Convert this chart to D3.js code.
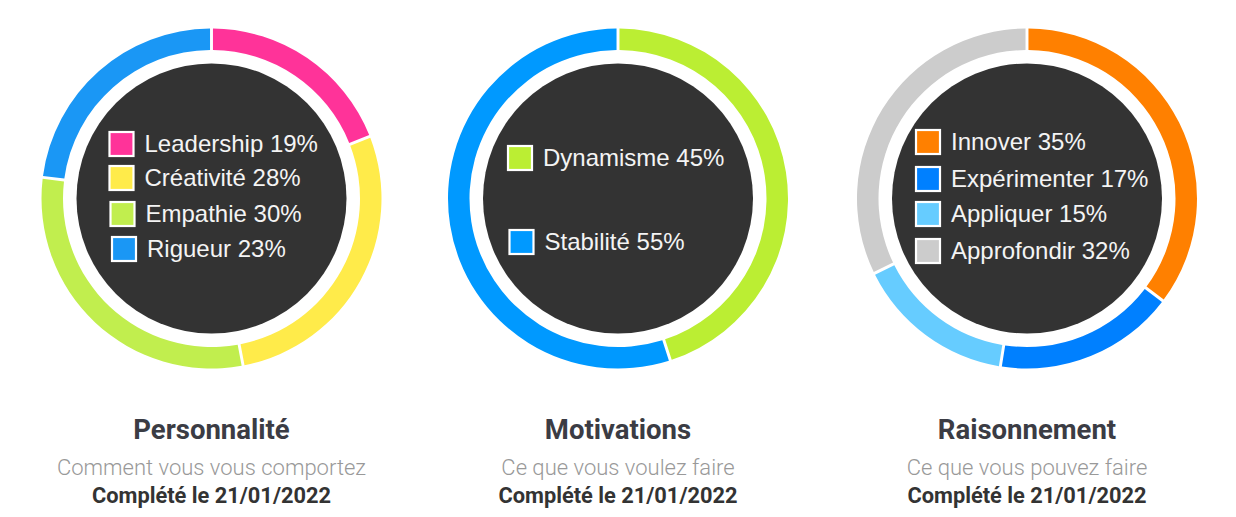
<!DOCTYPE html>
<html><head><meta charset="utf-8">
<script src="https://cdn.jsdelivr.net/npm/d3@7"></script>
<style>body{margin:0;background:#fff;}svg{display:block;}</style>
</head><body>
<svg id="c" width="1236" height="517"></svg>
<script>
// ---- data ----
const titles = ["Personnalité", "Motivations", "Raisonnement"];
const subtitles = ["Comment vous vous comportez", "Ce que vous voulez faire", "Ce que vous pouvez faire"];
const dates = ["Complété le 21/01/2022", "Complété le 21/01/2022", "Complété le 21/01/2022"];

const persoLabels = ["Leadership", "Créativité", "Empathie", "Rigueur"];
const persoValues = [19, 28, 30, 23];
const persoColors = ["#ff3399", "#ffeb4a", "#c1ee4e", "#1a97f5"];

const motivLabels = ["Dynamisme", "Stabilité"];
const motivValues = [45, 55];
const motivColors = ["#bbee33", "#0099ff"];

const raisLabels = ["Innover", "Expérimenter", "Appliquer", "Approfondir"];
const raisValues = [35, 17, 15, 32];
const raisColors = ["#ff8000", "#0080ff", "#66ccff", "#cccccc"];

// ---- layout ----
const charts = [
  {labels: persoLabels, values: persoValues, colors: persoColors, cx: 211.5,
   legX: -103, legRows: [-54.5, -20.5, 15.5, 50.5], legDx: [0, 0, 1, 2.5]},
  {labels: motivLabels, values: motivValues, colors: motivColors, cx: 618,
   legX: -111, legRows: [-40.5, 43.5], legDx: [0, 1.5]},
  {labels: raisLabels, values: raisValues, colors: raisColors, cx: 1027,
   legX: -112, legRows: [-56.5, -19.5, 15.5, 52.5], legDx: [0, 0, 0, 0]}
];
const cy = 198.5, rOuter = 170, rInner = 148.5, rDark = 135;

const svg = d3.select("#c");
const pie = d3.pie().sort(null).value(d => d).padAngle(0.013);
const arc = d3.arc().innerRadius(rInner).outerRadius(rOuter);

charts.forEach((c, i) => {
  const g = svg.append("g").attr("transform", `translate(${c.cx},${cy})`);
  g.selectAll("path.seg").data(pie(c.values)).join("path")
    .attr("class", "seg").attr("d", arc).attr("fill", (d, j) => c.colors[j]);
  g.append("circle").attr("r", rDark).attr("fill", "#333333");

  const leg = g.selectAll("g.leg").data(c.labels).join("g").attr("class", "leg")
    .attr("transform", (d, j) => `translate(${c.legX + c.legDx[j]},${c.legRows[j]})`);
  leg.append("rect").attr("x", 1).attr("y", -12).attr("width", 24).attr("height", 24)
    .attr("fill", (d, j) => c.colors[j]).attr("stroke", "#ffffff").attr("stroke-width", 2.2);
  leg.append("text").attr("x", 36).attr("y", 8)
    .attr("font-family", "'Liberation Sans', Arial, sans-serif").attr("font-size", 24)
    .attr("fill", "#f4f4f4")
    .text((d, j) => `${d} ${c.values[j]}%`);

  const t = svg.append("g").attr("transform", `translate(${c.cx},0)`).attr("text-anchor", "middle");
  t.append("text").attr("y", 439).attr("font-family", "Roboto, sans-serif").attr("font-weight", 700)
    .attr("font-size", 27.5).attr("fill", "#3b3c44").text(titles[i]);
  t.append("text").attr("y", 474.5).attr("font-family", "Roboto, sans-serif").attr("font-weight", 300)
    .attr("font-size", 22).attr("fill", "#999999").text(subtitles[i]);
  t.append("text").attr("y", 503).attr("font-family", "Roboto, sans-serif").attr("font-weight", 700)
    .attr("font-size", 21.8).attr("fill", "#333333").text(dates[i]);
});
</script>
</body></html>
